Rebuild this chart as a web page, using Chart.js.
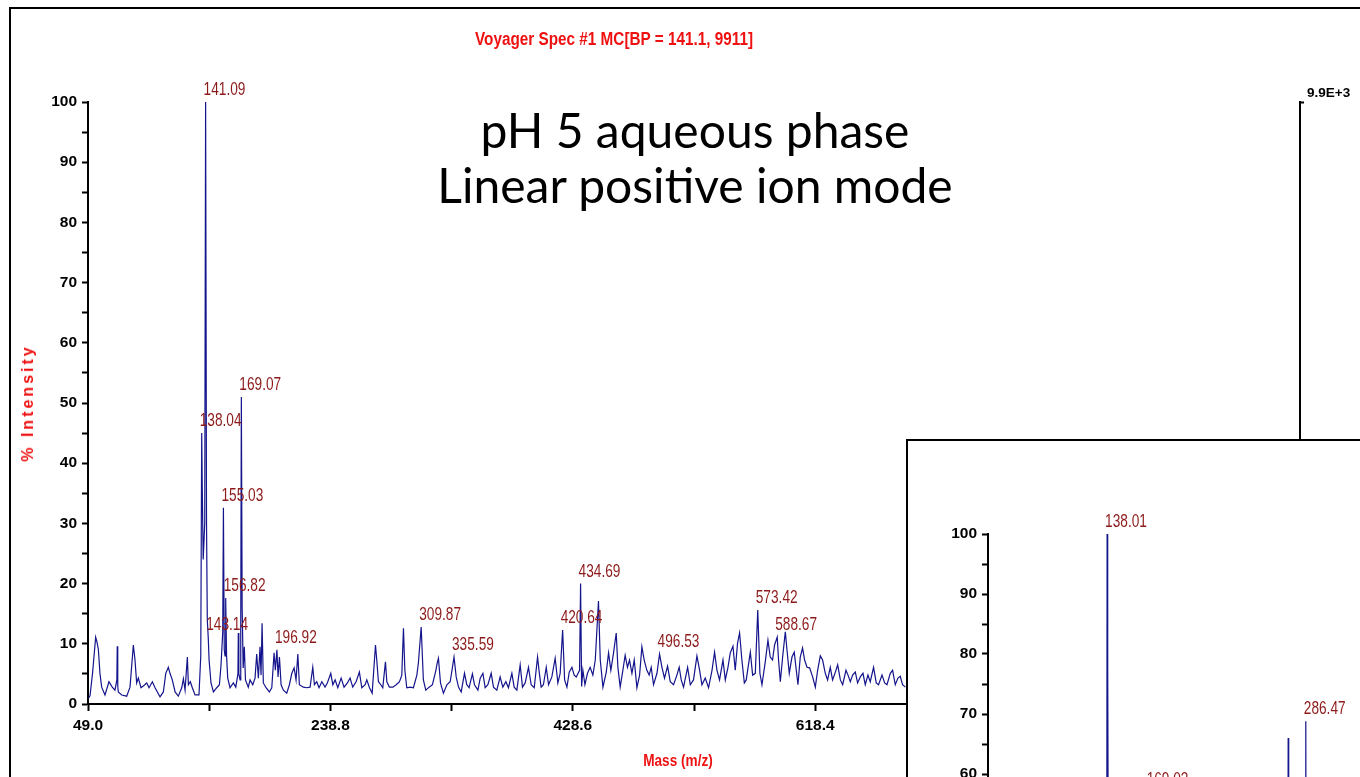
<!DOCTYPE html>
<html>
<head>
<meta charset="utf-8">
<script src="https://cdn.jsdelivr.net/npm/chart.js@4.4.0/dist/chart.umd.min.js"></script>
<style>
  body { margin: 0; width: 1360px; height: 777px; overflow: hidden; background: #fff; position: relative; }
  #frame { position: absolute; left: 9px; top: 7px; width: 1500px; height: 1000px; border: 2px solid #000; }
  #spectrum { position: absolute; left: 0; top: 0; }
  .red { position: absolute; color: #ee1111; font-family: "Liberation Sans", Arial, sans-serif;
         font-weight: bold; white-space: nowrap; transform: translate(-50%, -50%) scaleX(0.85); }
  #title { left: 614px; top: 39px; font-size: 18px; }
  #yTitle { left: 28px; top: 403px; font-size: 16px; letter-spacing: 3px;
            transform: translate(-50%, -50%) rotate(-90deg); }
  #xTitle { left: 678px; top: 761px; font-size: 17px; transform: translate(-50%, -50%) scaleX(0.8); }
  #note { position: absolute; left: 395px; top: 102px; width: 600px; text-align: center;
          font-family: Lato, "Open Sans", sans-serif; font-size: 48px; line-height: 55px; color: #000; }
  #inset { position: absolute; left: 906px; top: 439px; width: 1000px; height: 1000px;
           border: 2px solid #000; background: #fff; overflow: hidden; }
  #insetChart { position: absolute; left: 0; top: 0; }
</style>
</head>
<body>
<div id="frame"></div>
<canvas id="spectrum" width="1360" height="777"></canvas>
<div class="red" id="title">Voyager Spec #1 MC[BP = 141.1, 9911]</div>
<div class="red" id="yTitle">% Intensity</div>
<div class="red" id="xTitle">Mass (m/z)</div>
<div id="note">pH 5 aqueous phase<br>Linear positive ion mode</div>
<div id="inset"><canvas id="insetChart" width="1380" height="766"></canvas></div>

<script>
// Main spectrum (m/z, % intensity)
const massValues = [
  49.5, 50.6, 52.6, 55.0, 56.0, 57.1, 58.4, 59.7, 62.3, 65.4, 68.0, 70.1, 71.6, 71.9, 72.3, 72.7, 75.4, 79.3,
  81.9, 84.5, 85.8, 87.1, 88.4, 90.5, 92.3, 95.0, 96.8, 99.4, 101.5, 105.4, 108.0, 109.9, 111.9, 113.2, 115.0,
  117.2, 119.7, 122.4, 123.7, 125.0, 126.8, 127.6, 129.1, 130.7, 132.8, 135.9, 137.3, 138.04, 138.5, 139.2,
  140.4, 141.09, 141.8, 142.4, 143.14, 143.8, 145.3, 147.2, 149.8, 151.9, 153.2, 154.5, 155.03, 155.7, 156.3,
  156.82, 157.5, 158.4, 160.2, 162.8, 164.7, 166.4, 166.7, 167.1, 168.1, 168.6, 169.07, 169.7, 170.5, 171.4,
  172.3, 174.5, 175.9, 178.0, 179.8, 181.1, 182.4, 183.7, 184.5, 185.3, 186.3, 188.4, 191.0, 192.9, 194.7,
  195.7, 196.92, 197.8, 198.9, 200.2, 202.0, 204.6, 206.7, 208.6, 210.4, 211.9, 213.3, 214.5, 217.6, 220.3,
  222.9, 225.0, 226.3, 228.1, 229.9, 232.1, 234.6, 236.4, 239.1, 240.7, 242.5, 244.6, 247.2, 249.5, 252.1,
  254.2, 256.3, 258.9, 261.5, 263.4, 266.0, 267.3, 269.4, 271.5, 273.3, 274.1, 275.1, 276.4, 278.3, 279.8,
  281.9, 283.0, 285.0, 287.7, 290.3, 292.9, 294.7, 296.0, 297.1, 298.6, 301.2, 303.8, 306.5, 307.7, 309.87,
  311.6, 313.5, 316.1, 318.7, 321.4, 322.4, 323.4, 325.0, 327.3, 330.0, 332.6, 335.59, 337.3, 339.1, 341.2,
  343.8, 345.6, 347.4, 350.0, 351.6, 354.3, 356.1, 358.2, 360.0, 362.1, 364.7, 366.5, 369.1, 371.7, 373.8,
  376.2, 378.2, 380.9, 382.7, 384.8, 387.4, 389.2, 391.3, 393.9, 396.0, 398.4, 401.0, 402.3, 403.8, 405.6,
  407.8, 409.6, 412.2, 414.8, 416.9, 418.7, 420.64, 422.2, 424.0, 425.8, 427.9, 429.7, 431.3, 433.9, 434.69,
  435.5, 436.5, 438.1, 440.1, 442.2, 444.3, 446.2, 448.7, 450.1, 452.2, 454.8, 456.6, 458.4, 460.5, 462.6,
  463.9, 465.7, 467.8, 469.6, 471.4, 473.0, 474.9, 476.7, 478.8, 480.9, 482.7, 484.5, 486.6, 488.4, 490.0,
  491.8, 494.5, 496.53, 498.4, 500.4, 502.8, 504.9, 507.5, 510.1, 511.9, 513.5, 515.3, 518.5, 520.6, 523.1,
  525.8, 527.9, 529.7, 532.3, 534.9, 537.6, 539.6, 541.5, 543.5, 546.2, 548.0, 550.1, 551.9, 554.0, 555.8,
  557.6, 559.2, 561.0, 562.9, 564.4, 567.6, 569.4, 571.5, 573.42, 575.1, 576.7, 579.3, 581.4, 583.2, 585.0,
  586.6, 588.67, 589.7, 591.1, 592.9, 595.0, 596.3, 598.1, 600.2, 602.0, 603.6, 604.9, 606.7, 608.5, 610.1,
  612.0, 614.0, 616.4, 618.5, 620.3, 622.4, 624.2, 626.3, 628.1, 630.2, 632.0, 634.2, 636.0, 638.1, 639.9,
  642.5, 644.1, 645.9, 647.7, 649.8, 651.6, 653.7, 655.8, 657.6, 659.7, 661.5, 664.1, 666.2, 668.0, 670.7,
  672.8, 674.6, 677.2, 679.0, 681.1, 683.2, 685.0, 686.8, 689.0
];
const intensityValues = [
  1.0, 1.4, 5.2, 11.1, 10.3, 9.1, 5.0, 2.8, 1.5, 3.7, 2.8, 2.3, 4.0, 9.6, 3.0, 2.0, 1.5, 1.3,
  2.8, 9.8, 7.3, 3.5, 4.3, 2.7, 3.0, 3.5, 2.7, 3.7, 2.7, 1.2, 2.0, 5.1, 6.1, 5.1, 4.0,
  2.0, 1.3, 2.7, 4.2, 2.3, 7.8, 3.2, 3.7, 2.7, 1.5, 1.5, 8.0, 45.0, 35.5, 24.0,
  30.0, 100, 30.0, 14.0, 11.1, 7.3, 3.5, 2.0, 2.7, 3.2, 6.6, 12.0, 32.6, 9.0, 8.0,
  17.6, 8.0, 4.3, 2.7, 3.5, 2.8, 5.0, 11.8, 5.0, 4.0, 12.0, 51.0, 16.0, 6.0, 9.5,
  4.0, 2.8, 4.0, 3.2, 4.3, 8.3, 4.3, 9.5, 4.8, 13.4, 3.5, 2.7, 2.0, 2.7, 8.5,
  5.6, 9.0, 4.5, 7.8, 3.2, 2.3, 1.8, 3.2, 5.1, 6.0, 4.0, 8.3, 3.2, 2.8, 2.7,
  2.8, 6.1, 3.2, 3.7, 2.7, 3.7, 2.8, 3.5, 5.1, 3.2, 4.0, 2.7, 4.3, 2.8, 3.5,
  4.3, 2.8, 3.7, 5.3, 2.7, 3.2, 4.0, 2.7, 1.8, 7.3, 9.8, 7.3, 3.7, 3.2, 2.7,
  7.0, 3.7, 2.8, 2.8, 3.2, 3.7, 4.8, 12.6, 5.6, 2.7, 2.8, 2.7, 4.8, 6.8, 12.8,
  4.0, 2.3, 2.8, 3.2, 5.6, 6.8, 7.6, 3.5, 1.8, 3.2, 3.7, 7.8, 4.5, 2.8, 2.0,
  5.1, 3.2, 2.7, 5.0, 3.2, 2.3, 4.3, 5.1, 2.7, 3.2, 5.1, 2.8, 2.3, 4.5, 2.8,
  3.7, 2.7, 5.1, 2.8, 2.3, 6.5, 2.8, 3.5, 6.1, 3.2, 2.7, 7.8, 5.3, 2.8, 3.2,
  6.1, 3.2, 4.5, 7.6, 3.5, 5.1, 12.3, 4.0, 2.8, 5.3, 6.1, 4.8, 4.5, 5.6, 20.0,
  2.9, 5.6, 3.2, 5.1, 6.1, 4.8, 7.3, 17.1, 7.3, 2.8, 5.3, 8.5, 5.6, 8.5, 11.8,
  6.1, 2.8, 5.6, 8.1, 6.1, 7.3, 5.1, 7.3, 2.7, 4.8, 9.5, 7.3, 5.6, 4.8, 6.1,
  3.2, 5.1, 8.3, 6.1, 4.3, 6.3, 3.7, 3.2, 4.8, 6.1, 4.0, 2.8, 6.1, 3.2, 4.0,
  8.0, 5.6, 3.2, 4.3, 2.7, 5.6, 8.6, 5.6, 4.0, 7.3, 4.0, 6.1, 8.5, 9.6, 5.6,
  10.1, 11.8, 7.3, 3.5, 4.0, 8.6, 4.8, 5.1, 15.6, 5.1, 3.2, 7.0, 10.6, 7.8, 7.3,
  9.8, 11.1, 7.3, 3.7, 7.8, 12.0, 9.0, 5.1, 7.8, 8.6, 5.6, 3.2, 7.8, 9.3, 7.3,
  6.1, 6.0, 4.5, 2.8, 5.6, 8.0, 7.3, 5.1, 4.0, 6.1, 4.0, 5.3, 6.5, 4.0, 3.2,
  5.6, 4.8, 3.7, 4.8, 5.3, 3.5, 4.5, 5.1, 3.2, 4.8, 3.7, 6.1, 3.5, 3.2, 4.8,
  3.5, 3.2, 5.1, 5.6, 3.2, 4.3, 4.6, 3.2, 2.8
];
const labeledPeaks = [138.04, 141.09, 143.14, 155.03, 156.82, 169.07, 196.92, 309.87, 335.59,
                      420.64, 434.69, 496.53, 573.42, 588.67];

// Inset spectrum (only its upper part is on screen)
const insetMass = [49.0, 136.8, 137.6, 138.01, 138.3, 138.6, 139.4, 167.9, 168.6, 169.03, 169.5, 170.3,
                   272.2, 273.0, 273.3, 273.7, 274.6, 285.6, 286.2, 286.47, 286.8, 287.6, 300.0];
const insetIntensity = [2.0, 3.0, 12.0, 100, 40.0, 78.0, 5.0, 4.0, 20.0, 57.0, 20.0, 4.0,
                        4.0, 20.0, 66.0, 20.0, 4.0, 4.0, 20.0, 68.8, 20.0, 4.0, 3.0];
const insetLabeledPeaks = [138.01, 169.03, 286.47];

// Axis ticks
const massTicks = [49.0, 143.9, 238.8, 333.7, 428.6, 523.5, 618.4, 713.3, 808.2, 903.1, 998.0];
const majorMassTicks = [49.0, 238.8, 428.6, 618.4, 808.2, 998.0];
const intensityTicks = [0, 5, 10, 15, 20, 25, 30, 35, 40, 45, 50, 55, 60, 65, 70, 75, 80, 85, 90, 95, 100];
const basePeakIntensity = 9911;

const labelFamily = '"Liberation Sans", Arial, sans-serif';
const tickFont = { family: labelFamily, size: 15.5, weight: 'bold' };
const axisGrid = { drawOnChartArea: false, drawTicks: true, tickWidth: 2, tickColor: '#000' };
const axisBorder = { color: '#000', width: 2 };

// Writes the m/z value above each labelled peak (squeezed like the original narrow font)
function peakLabels(peaks, masses, values) {
  return {
    id: 'peakLabels',
    afterDatasetsDraw(chart) {
      const { ctx, scales } = chart;
      const squeeze = 0.72;
      ctx.save();
      ctx.font = '19px ' + labelFamily;
      ctx.fillStyle = '#8c1a1a';
      ctx.textAlign = 'left';
      ctx.textBaseline = 'alphabetic';
      peaks.forEach((m) => {
        const i = masses.indexOf(m);
        const px = scales.x.getPixelForValue(m) - 2;
        const py = scales.y.getPixelForValue(values[i]) - 7;
        ctx.setTransform(squeeze, 0, 0, 1, px, py);
        ctx.fillText(m.toFixed(2), 0, 0);
      });
      ctx.restore();
    }
  };
}

function drawSpectrum(canvas, masses, values, peaks, yWidth, padding, extraScales) {
  const points = masses.map((m, i) => ({ x: m, y: values[i] }));
  return new Chart(canvas, {
    type: 'line',
    data: {
      datasets: [{
        data: points,
        borderColor: '#14148c',
        borderWidth: 1.2,
        pointRadius: 0,
        tension: 0
      }]
    },
    options: {
      responsive: false,
      animation: false,
      devicePixelRatio: 1,
      layout: { padding },
      plugins: { legend: { display: false }, tooltip: { enabled: false } },
      scales: Object.assign({
        x: {
          type: 'linear',
          min: massTicks[0],
          max: massTicks[massTicks.length - 1],
          afterBuildTicks: (s) => { s.ticks = massTicks.map((v) => ({ value: v })); },
          afterFit: (s) => { s.height = 73; },
          ticks: {
            autoSkip: false, maxRotation: 0, padding: 5, color: '#000', font: tickFont,
            callback: (v) => (majorMassTicks.includes(v) ? v.toFixed(1) : '')
          },
          grid: Object.assign({ tickLength: 7 }, axisGrid),
          border: axisBorder
        },
        y: {
          min: 0,
          max: 100,
          afterBuildTicks: (s) => { s.ticks = intensityTicks.map((v) => ({ value: v })); },
          afterFit: (s) => { s.width = yWidth; },
          ticks: { padding: 5, color: '#000', font: tickFont, callback: (v) => (v % 10 === 0 ? v : '') },
          grid: Object.assign({ tickLength: 6 }, axisGrid),
          border: axisBorder
        }
      }, extraScales)
    },
    plugins: [peakLabels(peaks, masses, values)]
  });
}

// Main chart, with the absolute intensity axis on the right
drawSpectrum(document.getElementById('spectrum'), massValues, intensityValues, labeledPeaks, 88,
  { top: 102, left: 0, right: 0, bottom: 0 },
  {
    y2: {
      position: 'right',
      min: 0,
      max: 100,
      afterBuildTicks: (s) => { s.ticks = [{ value: 100 }]; },
      afterFit: (s) => { s.width = 60; },
      ticks: {
        padding: 3, labelOffset: -9, color: '#000',
        font: { family: labelFamily, size: 13.5, weight: 'bold' },
        callback: () => (basePeakIntensity / 1000).toFixed(1) + 'E+3'
      },
      grid: Object.assign({ tickLength: 4 }, axisGrid),
      border: axisBorder
    }
  });

// Inset spectrum
drawSpectrum(document.getElementById('insetChart'), insetMass, insetIntensity, insetLabeledPeaks, 80,
  { top: 93, left: 0, right: 30, bottom: 0 }, {});
</script>
</body>
</html>
